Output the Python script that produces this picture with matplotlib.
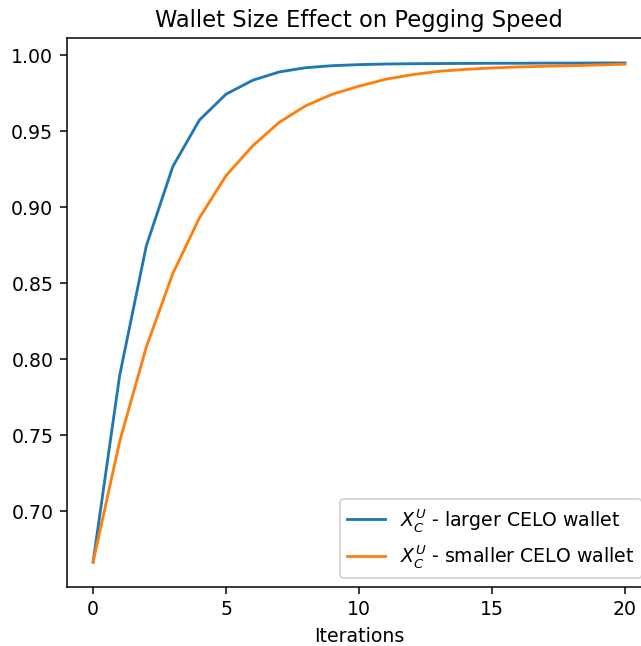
import matplotlib
matplotlib.use("Agg")
import matplotlib.pyplot as plt

iterations = list(range(21))
larger_wallet = [0.6667, 0.7895, 0.8745, 0.9268, 0.9573, 0.9743, 0.9834, 0.9889,
                 0.9917, 0.9930, 0.9937, 0.9941, 0.9943, 0.9944, 0.9945, 0.9946,
                 0.9946, 0.9947, 0.9947, 0.9948, 0.9948]
smaller_wallet = [0.6667, 0.7460, 0.8080, 0.8565, 0.8930, 0.9207, 0.9403, 0.9558,
                  0.9667, 0.9743, 0.9795, 0.9841, 0.9871, 0.9893, 0.9906, 0.9915,
                  0.9922, 0.9926, 0.9930, 0.9935, 0.9940]
labels = [r"$X_C^U$ - larger CELO wallet", r"$X_C^U$ - smaller CELO wallet"]

W, H = 641, 646
DPI = 136
fig = plt.figure(figsize=(W / DPI, H / DPI), dpi=DPI)
left, right, top, bottom = 66.5, 651.6, 38, 587
ax = fig.add_axes([left / W, (H - bottom) / H, (right - left) / W, (bottom - top) / H])

ax.plot(iterations, larger_wallet, color="#1f77b4", label=labels[0])
ax.plot(iterations, smaller_wallet, color="#ff7f0e", label=labels[1])

ax.set_xticks([0, 5, 10, 15, 20])
ax.set_yticks([0.70, 0.75, 0.80, 0.85, 0.90, 0.95, 1.00])
ax.set_yticklabels(["0.70", "0.75", "0.80", "0.85", "0.90", "0.95", "1.00"])
ax.set_xlabel("Iterations")
ax.set_title("Wallet Size Effect on Pegging Speed")
ax.legend(loc="lower right")

fig.savefig("out.png", dpi=DPI)
